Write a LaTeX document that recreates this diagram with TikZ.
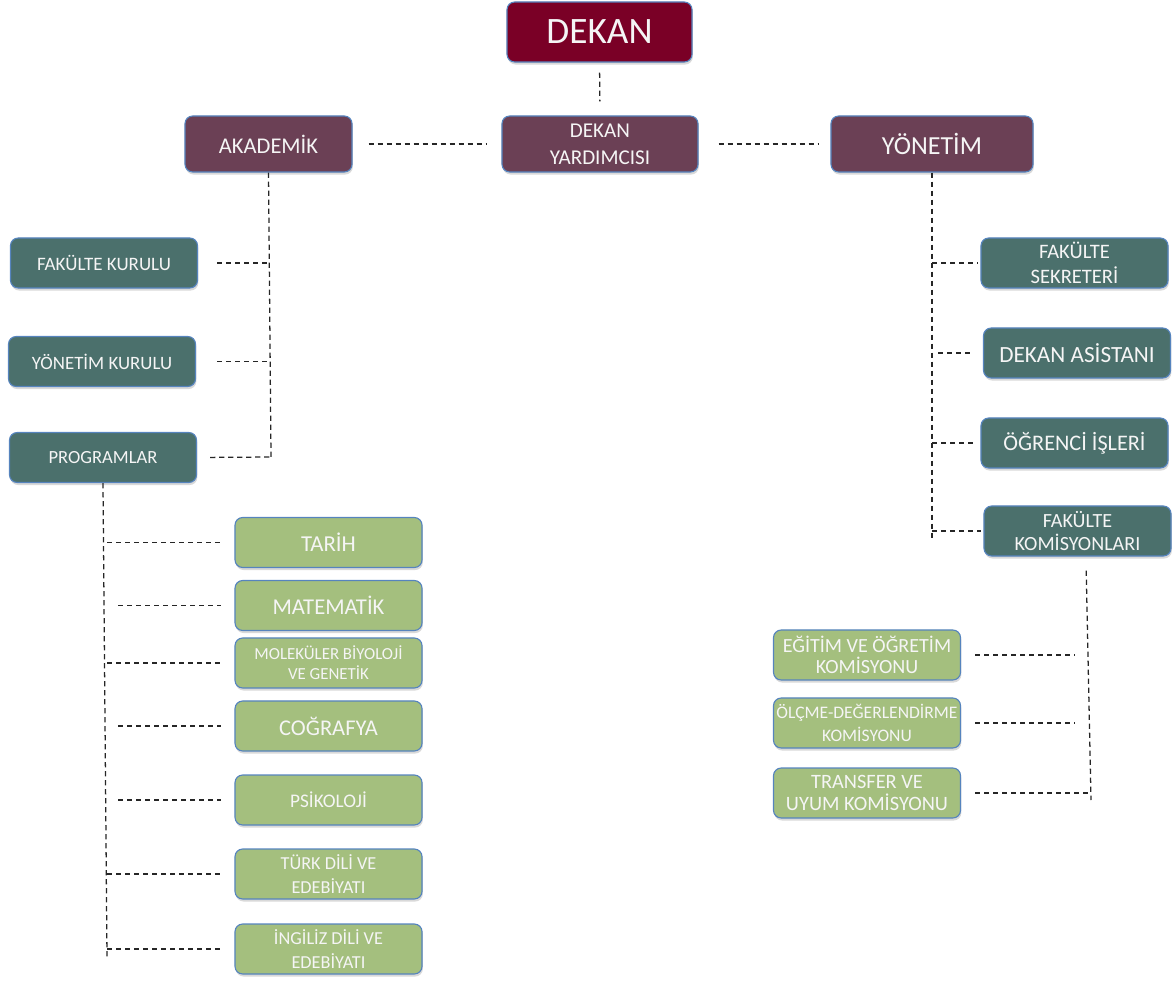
\documentclass[tikz,border=0pt]{standalone}
\usepackage{fontspec}
\setmainfont{Carlito}
\usetikzlibrary{shadows}

\definecolor{dekanred}{RGB}{122,0,38}
\definecolor{mauve}{RGB}{107,64,85}
\definecolor{teal}{RGB}{75,112,108}
\definecolor{sage}{RGB}{164,191,126}
\definecolor{edgeblue}{RGB}{86,132,190}
\definecolor{txt}{RGB}{245,245,245}

\tikzset{
  box/.style={draw=edgeblue, line width=0.8pt, rounded corners=5.5pt, text=txt,
    align=center, inner sep=1pt,
    drop shadow={opacity=0.3, shadow xshift=0.6pt, shadow yshift=-1.8pt}},
  topbox/.style={box, fill=mauve, minimum height=1.4cm},
  tealbox/.style={box, fill=teal, minimum width=4.675cm, minimum height=1.25cm},
  greenbox/.style={box, fill=sage, minimum width=4.675cm, minimum height=1.25cm},
  conn/.style={dashed, dash pattern=on 3.8pt off 2.6pt, line width=0.9pt, black!85},
}

\begin{document}
\begin{tikzpicture}[x=0.025cm, y=-0.025cm]
        \useasboundingbox (0,0) rectangle (1174,983);
        % top level
        \node[box, fill=dekanred, minimum width=4.625cm, minimum height=1.5cm,
              font=\fontsize{26.5}{28}\selectfont] (dekan) at (599.5,32) {DEKAN};
        \node[topbox, minimum width=4.9cm, font=\fontsize{15}{19}\selectfont] (yard) at (600,144) {DEKAN\\YARDIMCISI};
        \node[topbox, minimum width=4.175cm, font=\fontsize{16}{18}\selectfont] (akad) at (268.5,144) {AKADEMİK};
        \node[topbox, minimum width=5.05cm, font=\fontsize{18.5}{20}\selectfont] (yon) at (932,144) {YÖNETİM};

        \draw[conn, shorten <=0.25cm, shorten >=0.35cm] (dekan.south) -- (yard.north);
        \draw[conn, shorten <=0.4cm, shorten >=0.35cm] (akad.east) -- (yard.west);
        \draw[conn, shorten <=0.5cm, shorten >=0.275cm] (yard.east) -- (yon.west);

        % akademik side
        \node[tealbox, font=\fontsize{13.5}{15}\selectfont] (fk) at (104,263) {FAKÜLTE KURULU};
        \node[tealbox, font=\fontsize{13.4}{15}\selectfont] (yk) at (102,361.5) {YÖNETİM KURULU};
        \node[tealbox, font=\fontsize{13.2}{15}\selectfont] (prog) at (103,457.5) {PROGRAMLAR};
        \coordinate (akend) at (271,457);
        \draw[conn] (akad.south) -- (akend);
        \draw[conn, shorten <=0.475cm] (fk.east) -- (fk.east -| akend);
        \draw[conn, shorten <=0.525cm] (yk.east) -- (yk.east -| akend);
        \draw[conn, shorten <=0.325cm] (prog.east) -- (akend);

        % programlar
        \node[greenbox, font=\fontsize{16.2}{18}\selectfont] (tarih) at (328.5,542.5) {TARİH};
        \node[greenbox, font=\fontsize{16.1}{18}\selectfont] (mat) at (328.5,605.5) {MATEMATİK};
        \node[greenbox, font=\fontsize{12}{14}\selectfont] (mol) at (328.5,663) {MOLEKÜLER BİYOLOJİ\\VE GENETİK};
        \node[greenbox, font=\fontsize{16}{18}\selectfont] (cog) at (328.5,726) {COĞRAFYA};
        \node[greenbox, font=\fontsize{13.7}{15}\selectfont] (psi) at (328.5,800) {PSİKOLOJİ};
        \node[greenbox, font=\fontsize{13}{17}\selectfont] (turk) at (328.5,874) {TÜRK DİLİ VE\\EDEBİYATI};
        \node[greenbox, font=\fontsize{13}{17}\selectfont] (ing) at (328.5,949) {İNGİLİZ DİLİ VE\\EDEBİYATI};
        \coordinate (pgend) at (107,958);
        \draw[conn] (prog.south) -- (pgend);
        \draw[conn, shorten >=0.325cm] (tarih.west -| pgend) -- (tarih.west);
        \draw[conn, shorten <=0.275cm, shorten >=0.325cm] (mat.west -| pgend) -- (mat.west);
        \draw[conn, shorten >=0.325cm] (mol.west -| pgend) -- (mol.west);
        \draw[conn, shorten <=0.275cm, shorten >=0.325cm] (cog.west -| pgend) -- (cog.west);
        \draw[conn, shorten <=0.275cm, shorten >=0.325cm] (psi.west -| pgend) -- (psi.west);
        \draw[conn, shorten >=0.325cm] (turk.west -| pgend) -- (turk.west);
        \draw[conn, shorten >=0.325cm] (ing.west -| pgend) -- (ing.west);

        % yonetim side
        \node[tealbox, font=\fontsize{14.6}{17.8}\selectfont] (sek) at (1074.5,263) {FAKÜLTE\\SEKRETERİ};
        \node[tealbox, font=\fontsize{16.5}{18}\selectfont] (asis) at (1077,353) {DEKAN ASİSTANI};
        \node[tealbox, font=\fontsize{15.8}{18}\selectfont] (ogr) at (1074.5,443) {ÖĞRENCİ İŞLERİ};
        \node[tealbox, font=\fontsize{14.3}{17}\selectfont] (kom) at (1077.5,531) {FAKÜLTE\\KOMİSYONLARI};
        \coordinate (yoend) at (932,540);
        \draw[conn] (yon.south) -- (yoend);
        \draw[conn, shorten >=0.05cm] (sek.west -| yoend) -- (sek.west);
        \draw[conn, shorten <=0.15cm, shorten >=0.225cm] (asis.west -| yoend) -- (asis.west);
        \draw[conn, shorten >=0.15cm] (ogr.west -| yoend) -- (ogr.west);
        \draw[conn, shorten >=0.05cm] (kom.west -| yoend) -- (kom.west);

        % komisyonlar
        \node[greenbox, font=\fontsize{14.3}{15}\selectfont] (egt) at (867,655) {EĞİTİM VE ÖĞRETİM\\KOMİSYONU};
        \node[greenbox, font=\fontsize{12.5}{16}\selectfont] (olc) at (867,723) {ÖLÇME-DEĞERLENDİRME\\KOMİSYONU};
        \node[greenbox, font=\fontsize{14.5}{16}\selectfont] (trn) at (867,793) {TRANSFER VE\\UYUM KOMİSYONU};
        \coordinate (kmend) at (1091,800);
        \draw[conn, shorten <=0.35cm] ([xshift=0.21cm]kom.south) -- (kmend);
        \draw[conn, shorten <=0.35cm, shorten >=0.4cm] (egt.east) -- (egt.east -| kmend);
        \draw[conn, shorten <=0.35cm, shorten >=0.4cm] (olc.east) -- (olc.east -| kmend);
        \draw[conn, shorten <=0.35cm] (trn.east) -- (trn.east -| kmend);
\end{tikzpicture}
\end{document}
